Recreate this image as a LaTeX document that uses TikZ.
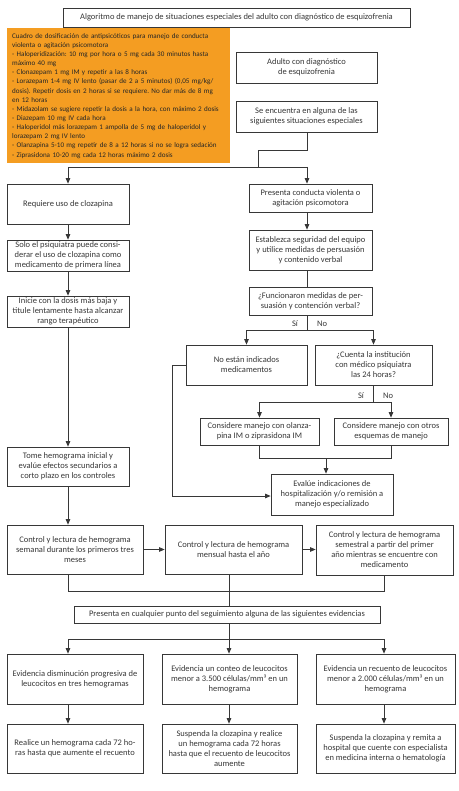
\documentclass[tikz,border=0pt]{standalone}
\usepackage{fontspec}
\setmainfont{Carlito}
\usetikzlibrary{arrows.meta}
\definecolor{boxorange}{RGB}{244,157,34}
\definecolor{ink}{RGB}{55,55,55}
\newcommand\boxnode[6]{\node[box,minimum width={(#3-#2)*1pt},minimum height={(#5-#4)*1pt}] (#1) at ({(#2+#3)/2},{(#4+#5)/2}) {#6};}
\begin{document}
\frenchspacing
\begin{tikzpicture}[x=1pt,y=-1pt,
  box/.style={draw=ink, line width=0.75pt, align=center, inner sep=1pt, font=\fontsize{8.5}{10}\selectfont, text=ink},
  arr/.style={-{Triangle[length=5.5pt,width=4.5pt]}, draw=ink, line width=0.75pt},
  ln/.style={draw=ink, line width=0.75pt},
  lbl/.style={font=\fontsize{8.5}{10}\selectfont, text=ink, inner sep=0pt}]
\useasboundingbox[fill=white] (0,0) rectangle (458,791);

\boxnode{title}{63}{410}{8}{27}{Algoritmo de manejo de situaciones especiales del adulto con diagnóstico de esquizofrenia}

\node[fill=boxorange, anchor=north west, text width=213pt, minimum height=135pt, inner sep=5pt, align=left,
  font=\fontsize{7.1}{9.15}\selectfont, text=black!85] (dosis) at (7,28) {Cuadro de dosificación de antipsicóticos para manejo de conducta\\
violenta o agitación psicomotora\\
- Haloperidización: 10 mg por hora o 5 mg cada 30 minutos hasta\\
máximo 40 mg\\
- Clonazepam 1 mg IM y repetir a las 8 horas\\
- Lorazepam 1-4 mg IV lento (pasar de 2 a 5 minutos) (0,05 mg/kg/\\
dosis). Repetir dosis en 2 horas si se requiere. No dar más de 8 mg\\
en 12 horas\\
- Midazolam se sugiere repetir la dosis a la hora, con máximo 2 dosis\\
- Diazepam 10 mg IV cada hora\\
- Haloperidol más lorazepam 1 ampolla de 5 mg de haloperidol y\\
lorazepam 2 mg IV lento\\
- Olanzapina 5-10 mg repetir de 8 a 12 horas si no se logra sedación\\
- Ziprasidona 10-20 mg cada 12 horas máximo 2 dosis};

\boxnode{adulto}{236}{377}{52}{83}{Adulto con diagnóstico\\de esquizofrenia}
\boxnode{seenc}{236}{377}{101}{132}{Se encuentra en alguna de las\\siguientes situaciones especiales}
\boxnode{requiere}{7}{129}{184}{224}{Requiere uso de clozapina}
\boxnode{solo}{7}{129}{240}{271}{Solo el psiquiatra puede consi-\\derar el uso de clozapina como\\medicamento de primera línea}
\boxnode{inicie}{7}{129}{296}{327}{Inicie con la dosis más baja y\\titule lentamente hasta alcanzar\\rango terapéutico}
\boxnode{presenta}{249}{372}{184}{212}{Presenta conducta violenta o\\agitación psicomotora}
\boxnode{establezca}{249}{372}{230}{270}{Establezca seguridad del equipo\\y utilice medidas de persuasión\\y contenido verbal}
\boxnode{funcionaron}{249}{372}{287}{315}{¿Funcionaron medidas de per-\\suasión y contención verbal?}
\boxnode{noestan}{186}{307}{345}{385}{No están indicados\\medicamentos}
\boxnode{cuenta}{315}{432}{345}{385}{¿Cuenta la institución\\con médico psiquiatra\\las 24 horas?}
\boxnode{olanz}{200}{319}{418}{445}{Considere manejo con olanza-\\pina IM o ziprasidona IM}
\boxnode{otros}{334}{448}{418}{445}{Considere manejo con otros\\esquemas de manejo}
\boxnode{evalue}{271}{393}{474}{515}{Evalúe indicaciones de\\hospitalización y/o remisión a\\manejo especializado}
\boxnode{tome}{7}{129}{447}{486}{Tome hemograma inicial y\\evalúe efectos secundarios a\\corto plazo en los controles}
\boxnode{semanal}{7}{143}{525}{574}{Control y lectura de hemograma\\semanal durante los primeros tres\\meses}
\boxnode{mensual}{165}{302}{525}{574}{Control y lectura de hemograma\\mensual hasta el año}
\boxnode{semestral}{316}{453}{525}{575}{Control y lectura de hemograma\\semestral a partir del primer\\año mientras se encuentre con\\medicamento}
\boxnode{evid}{74}{380}{606}{623}{Presenta en cualquier punto del seguimiento alguna de las siguientes evidencias}
\boxnode{e1}{7}{143}{654}{704}{Evidencia disminución progresiva de\\leucocitos en tres hemogramas}
\boxnode{e2}{162}{297}{654}{704}{Evidencia un conteo de leucocitos\\menor a 3.500 células/mm³ en un\\hemograma}
\boxnode{e3}{316}{455}{654}{704}{Evidencia un recuento de leucocitos\\menor a 2.000 células/mm³ en un\\hemograma}
\boxnode{r1}{7}{143}{724}{773}{Realice un hemograma cada 72 ho-\\ras hasta que aumente el recuento}
\boxnode{r2}{162}{297}{724}{773}{Suspenda la clozapina y realice\\un hemograma cada 72 horas\\hasta que el recuento de leucocitos\\aumente}
\boxnode{r3}{316}{455}{724}{773}{Suspenda la clozapina y remita a\\hospital que cuente con especialista\\en medicina interna o hematología}

% column coordinates
\coordinate (xL) at (68,0);
\coordinate (xR) at (307,0);
\coordinate (xM) at (229,0);
\coordinate (xE) at (384,0);

% top split
\coordinate (s1) at (307,150);
\coordinate (s2) at (258,150);
\coordinate (s3) at (258,167);
\coordinate (p1) at (307,167);
\draw[ln] (seenc.south -| xR) -- (s1) -- (s2) -- (s3) -- (p1);
\draw[arr] (s3) -| (requiere.north -| xL);
\draw[arr] (p1) -- (presenta.north -| xR);

% left column
\draw[arr] (requiere.south -| xL) -- (solo.north -| xL);
\draw[arr] (solo.south -| xL) -- (inicie.north -| xL);
\draw[arr] (inicie.south -| xL) -- (tome.north -| xL);
\draw[arr] (tome.south -| xL) -- (semanal.north -| xL);

% right column
\draw[arr] (presenta.south -| xR) -- (establezca.north -| xR);
\draw[ln] (establezca.south -| xR) -- (funcionaron.north -| xR);
\coordinate (f1) at (307,330);
\draw[ln] (funcionaron.south -| xR) -- (f1);
\draw[arr] (f1) -| (noestan.north);
\draw[arr] (f1) -| (cuenta.north);
\node[lbl] (si1) at (295,324) {Sí};
\node[lbl] (no1) at (322,324) {No};

\coordinate (c1) at (373.5,402);
\draw[ln] (cuenta.south) -- (c1);
\draw[arr] (c1) -| (olanz.north);
\draw[arr] (c1) -| (otros.north);
\node[lbl] (si2) at (361,396) {Sí};
\node[lbl] (no2) at (388,396) {No};

\coordinate (o1) at (326,458);
\draw[ln] (olanz.south) |- (o1);
\draw[ln] (otros.south) |- (o1);
\draw[arr] (o1) -- (o1 |- evalue.north);

\coordinate (n1) at (172,365);
\coordinate (n2) at (172,496);
\draw[ln] (noestan.west) -- (n1) -- (n2);
\draw[arr] (n2) -- (n2 -| evalue.west);

% control row
\draw[arr] (semanal.east) -- (mensual.west);
\draw[arr] (mensual.east) -- (mensual.east -| semestral.west);
\coordinate (b1) at (68,591);
\coordinate (b2) at (384,591);
\draw[ln] (semanal.south -| xL) -- (b1) -- (b2) -- (semestral.south -| xE);
\draw[ln] (mensual.south -| xM) -- (evid.north -| xM);

% evidence
\coordinate (v1) at (229,639);
\draw[ln] (evid.south -| xM) -- (v1);
\draw[arr] (v1) -| (e1.north -| xL);
\draw[arr] (v1) -- (e2.north -| xM);
\draw[arr] (v1) -| (e3.north -| xE);
\draw[arr] (e1.south -| xL) -- (r1.north -| xL);
\draw[arr] (e2.south -| xM) -- (r2.north -| xM);
\draw[arr] (e3.south -| xE) -- (r3.north -| xE);
\end{tikzpicture}
\end{document}
